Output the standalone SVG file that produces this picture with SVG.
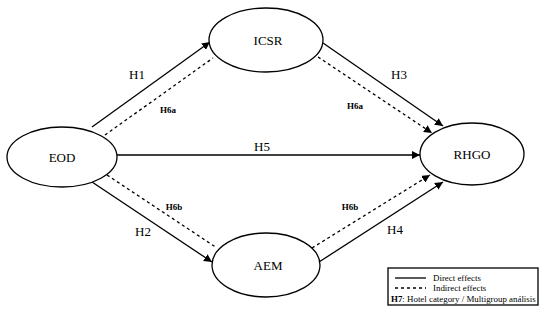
<svg xmlns="http://www.w3.org/2000/svg" width="550" height="311" viewBox="0 0 550 311">
<defs>
<marker id="ah" viewBox="0 0 10 10" refX="10" refY="5" markerWidth="8" markerHeight="8" markerUnits="userSpaceOnUse" orient="auto">
<path d="M0,0 L10,5 L0,10 z" fill="#000"/>
</marker>
</defs>
<style>
text{font-family:'Liberation Serif','Times New Roman',Times,serif;fill:#000}
.node{fill:#fff;stroke:#000;stroke-width:1.3}
.nt{font-size:13px;text-anchor:middle}
.lbl{font-size:13px;text-anchor:middle}
.sl{font-size:9px;font-weight:bold;text-anchor:middle}
.solid{stroke:#000;stroke-width:1.3;fill:none}
.dash{stroke:#000;stroke-width:1.3;fill:none;stroke-dasharray:3,3}
.lg{font-size:8.9px}
</style>
<rect width="550" height="311" fill="#fff"/>
<g id="connectors">
<line class="solid" x1="92" y1="127" x2="210" y2="42" marker-end="url(#ah)"/>
<line class="dash" x1="105" y1="135" x2="213" y2="58"/>
<line class="solid" x1="323" y1="43" x2="443" y2="126" marker-end="url(#ah)"/>
<line class="dash" x1="318" y1="57" x2="432" y2="133" marker-end="url(#ah)"/>
<line class="solid" x1="117" y1="155" x2="420" y2="155" marker-end="url(#ah)"/>
<line class="solid" x1="92" y1="182" x2="212" y2="262" marker-end="url(#ah)"/>
<line class="dash" x1="107" y1="175" x2="217" y2="248"/>
<line class="dash" x1="312" y1="248" x2="430" y2="175" marker-end="url(#ah)"/>
<line class="solid" x1="319" y1="262" x2="443" y2="182" marker-end="url(#ah)"/>
<text class="lbl" x="137" y="79">H1</text>
<text class="sl" x="168" y="113">H6a</text>
<text class="lbl" x="399" y="79">H3</text>
<text class="sl" x="355" y="109">H6a</text>
<text class="lbl" x="262" y="151">H5</text>
<text class="sl" x="174" y="210">H6b</text>
<text class="lbl" x="143" y="236">H2</text>
<text class="sl" x="350" y="210">H6b</text>
<text class="lbl" x="395" y="234">H4</text>
</g>
<g id="EOD">
<ellipse class="node" cx="62" cy="157" rx="55" ry="30"/>
<text class="nt" x="62" y="162">EOD</text>
</g>
<g id="ICSR">
<ellipse class="node" cx="266" cy="40" rx="57" ry="32"/>
<text class="nt" x="268" y="45">ICSR</text>
</g>
<g id="RHGO">
<ellipse class="node" cx="472" cy="154" rx="52" ry="31"/>
<text class="nt" x="472" y="159">RHGO</text>
</g>
<g id="AEM">
<ellipse class="node" cx="266" cy="265" rx="54" ry="32"/>
<text class="nt" x="268" y="270">AEM</text>
</g>
<g id="legend">
<rect x="388" y="268" width="150" height="37" fill="#fff" stroke="#000" stroke-width="1.3"/>
<line class="solid" x1="395" y1="278" x2="426" y2="278"/>
<text class="lg" x="433" y="281">Direct effects</text>
<line class="dash" x1="395" y1="288" x2="426" y2="288"/>
<text class="lg" x="433" y="291">Indirect effects</text>
<text class="lg" x="391" y="301.5"><tspan font-weight="bold">H7</tspan>: Hotel category / Multigroup análisis</text>
</g>
</svg>
